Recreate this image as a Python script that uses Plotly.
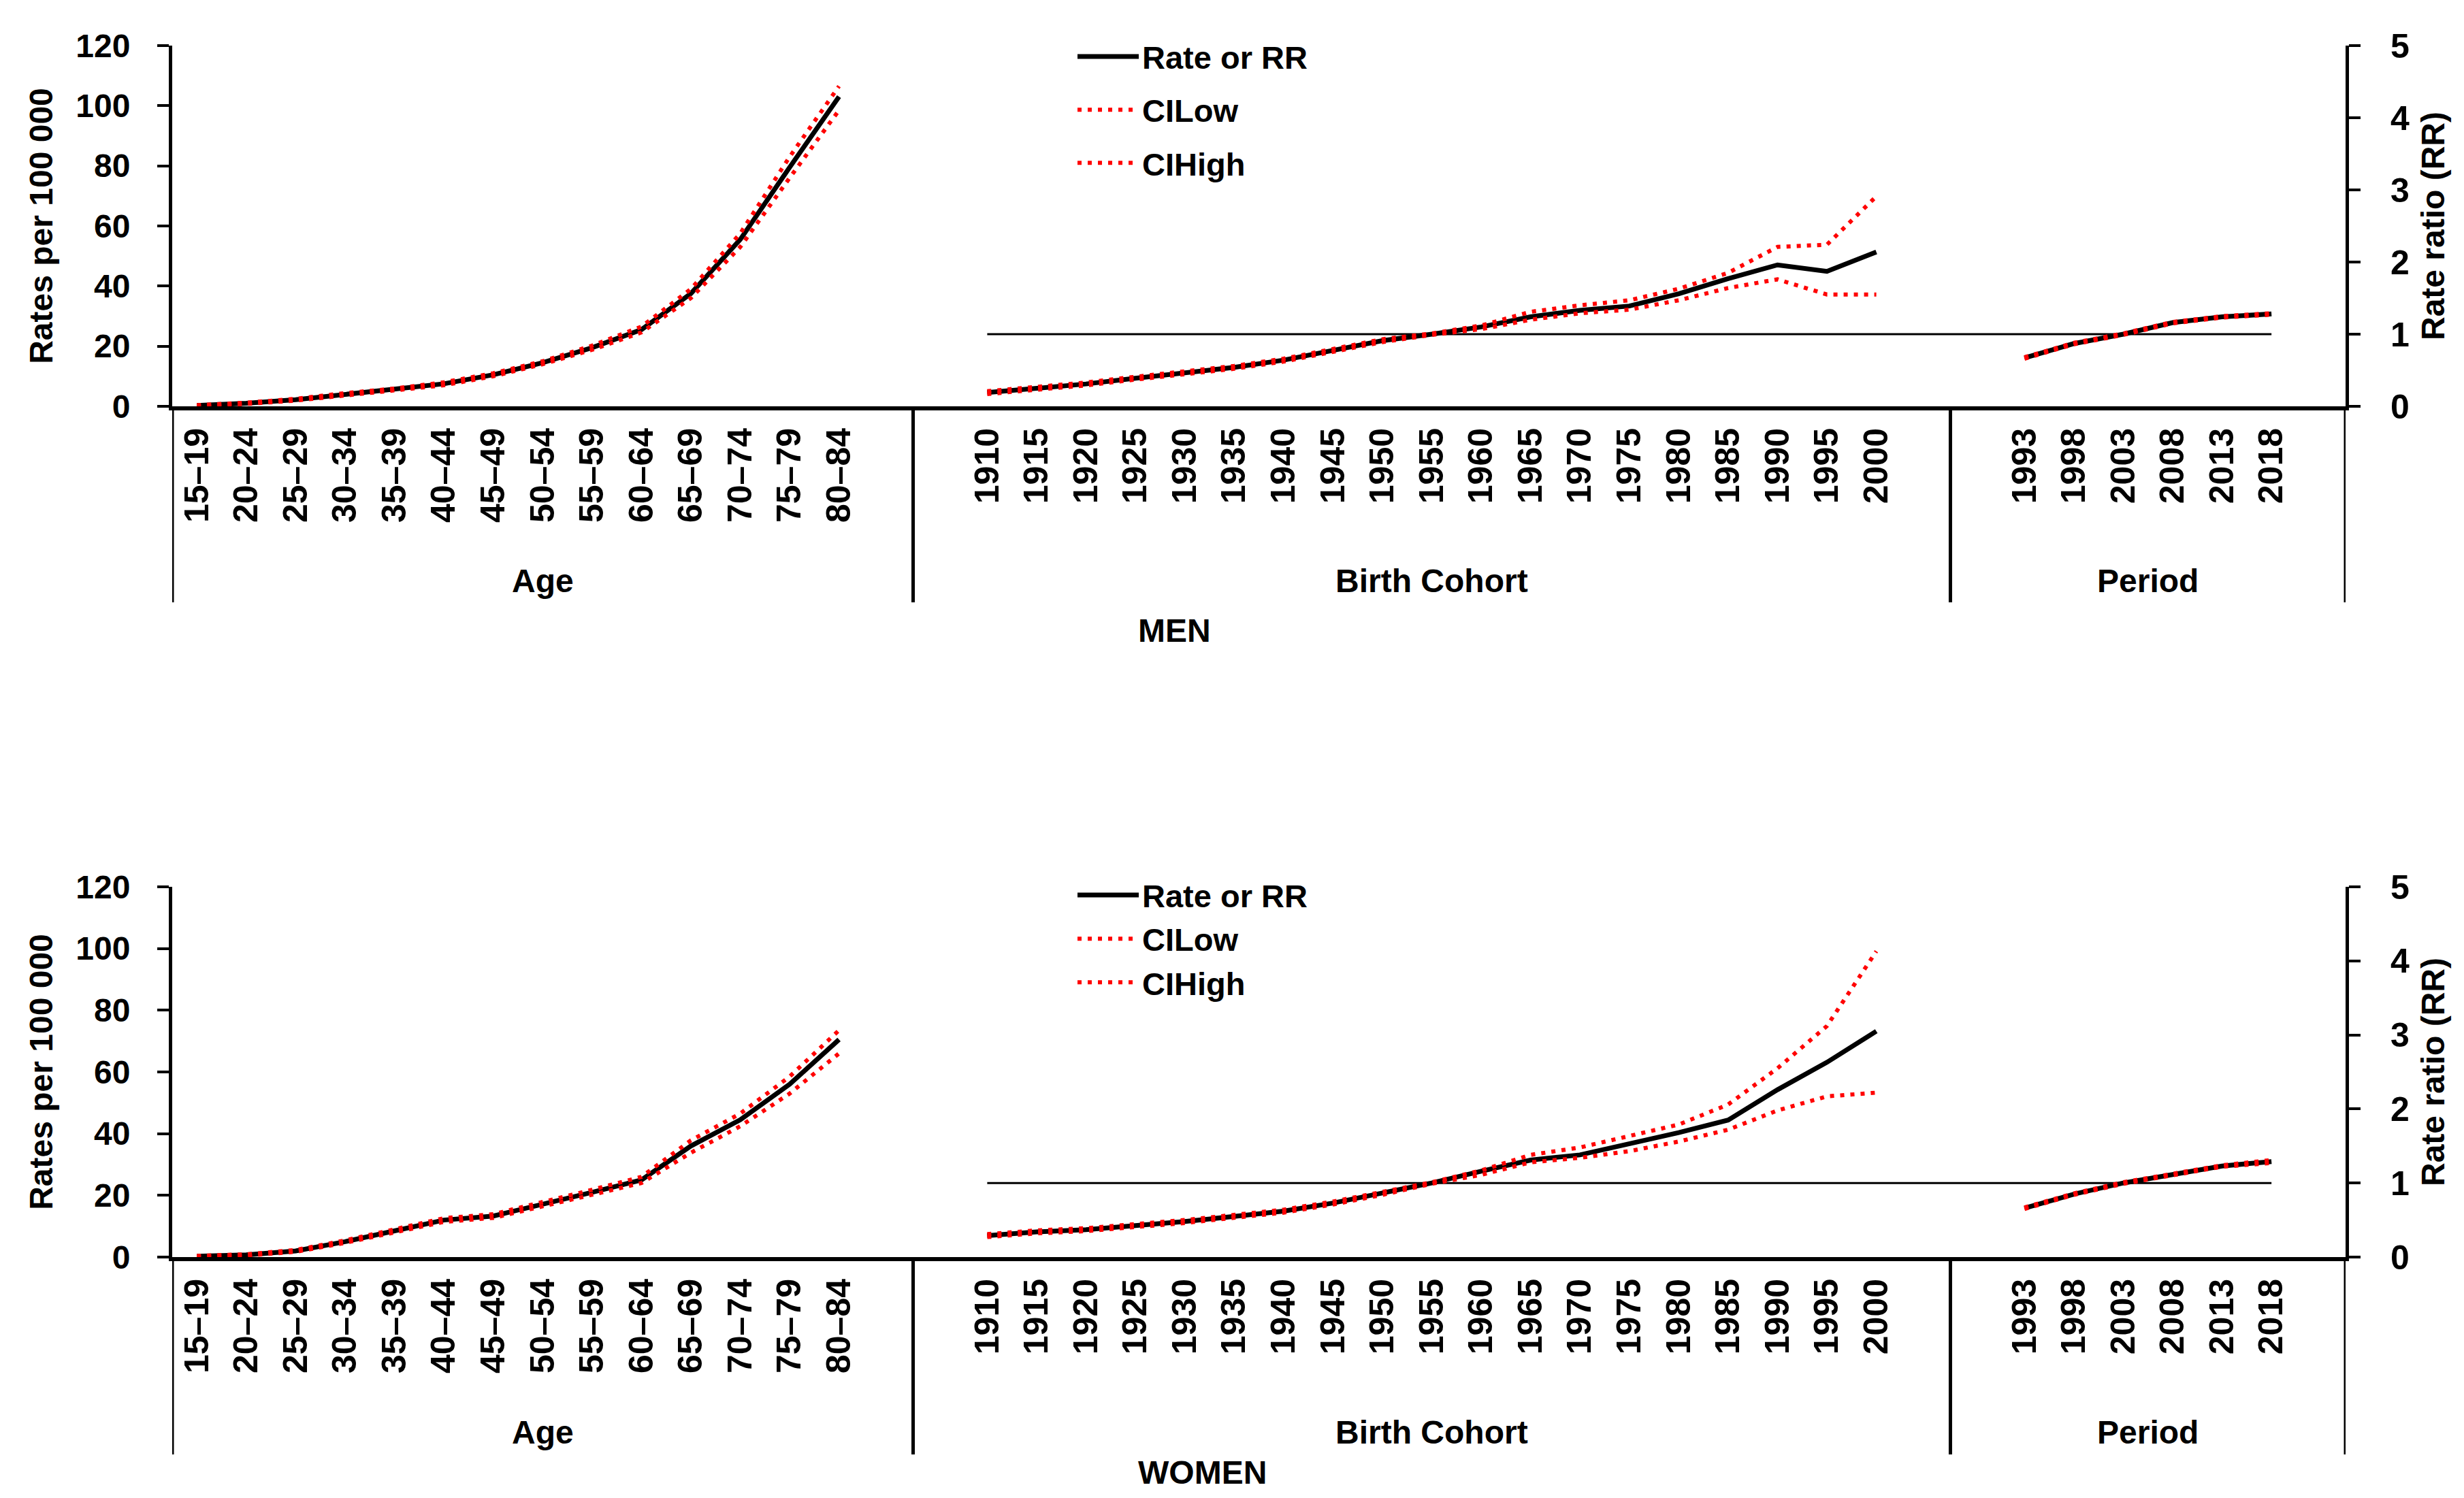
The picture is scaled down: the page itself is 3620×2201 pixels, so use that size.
import plotly.graph_objects as go

# ---------------- data ----------------
age_labels = ["15–19", "20–24", "25–29", "30–34", "35–39", "40–44", "45–49",
              "50–54", "55–59", "60–64", "65–69", "70–74", "75–79", "80–84"]
cohort_labels = ["1910", "1915", "1920", "1925", "1930", "1935", "1940", "1945",
                 "1950", "1955", "1960", "1965", "1970", "1975", "1980", "1985",
                 "1990", "1995", "2000"]
period_labels = ["1993", "1998", "2003", "2008", "2013", "2018"]

# MEN
men_age_rate = [0.3, 1.0, 2.2, 4.0, 5.5, 7.5, 10.5, 14.5, 19.5, 25.5, 37.5, 55.5, 79.5, 103.0]
men_age_low = [0.2, 0.8, 1.9, 3.6, 5.1, 7.0, 10.0, 14.0, 18.8, 24.6, 36.0, 53.0, 76.0, 98.5]
men_age_high = [0.4, 1.2, 2.5, 4.4, 5.9, 8.0, 11.0, 15.0, 20.2, 26.5, 39.0, 57.5, 83.0, 106.5]

men_coh_rr = [0.19, 0.25, 0.31, 0.39, 0.46, 0.54, 0.64, 0.77, 0.91, 1.00, 1.10, 1.24,
              1.33, 1.39, 1.56, 1.77, 1.96, 1.87, 2.14]
men_coh_low = [0.17, 0.23, 0.29, 0.37, 0.44, 0.52, 0.62, 0.75, 0.89, 0.99, 1.07, 1.20,
               1.29, 1.34, 1.47, 1.64, 1.76, 1.55, 1.55]
men_coh_high = [0.21, 0.27, 0.33, 0.41, 0.48, 0.56, 0.66, 0.79, 0.93, 1.01, 1.12, 1.31,
                1.40, 1.47, 1.63, 1.85, 2.21, 2.24, 2.91]

men_per_rr = [0.67, 0.87, 1.00, 1.16, 1.24, 1.28]
men_per_low = [0.66, 0.86, 0.99, 1.15, 1.23, 1.27]
men_per_high = [0.68, 0.88, 1.01, 1.17, 1.25, 1.29]

# WOMEN
women_age_rate = [0.3, 0.7, 2.0, 5.0, 8.5, 12.0, 13.3, 17.0, 21.0, 25.0, 36.0, 44.5, 56.0, 70.5]
women_age_low = [0.2, 0.5, 1.7, 4.6, 8.0, 11.4, 12.7, 16.3, 20.2, 24.0, 33.8, 42.4, 53.0, 66.0]
women_age_high = [0.4, 0.9, 2.3, 5.4, 9.0, 12.6, 13.9, 17.7, 21.8, 26.0, 37.8, 46.5, 58.5, 73.5]

women_coh_rr = [0.29, 0.34, 0.37, 0.42, 0.48, 0.55, 0.62, 0.73, 0.86, 1.00, 1.16, 1.31,
                1.38, 1.53, 1.68, 1.85, 2.26, 2.63, 3.05]
women_coh_low = [0.27, 0.32, 0.35, 0.40, 0.46, 0.53, 0.60, 0.71, 0.84, 0.99, 1.11, 1.28,
                 1.34, 1.43, 1.56, 1.72, 1.98, 2.17, 2.22]
women_coh_high = [0.31, 0.36, 0.39, 0.44, 0.50, 0.57, 0.64, 0.75, 0.88, 1.01, 1.17, 1.38,
                  1.48, 1.63, 1.79, 2.06, 2.55, 3.12, 4.13]

women_per_rr = [0.66, 0.85, 1.00, 1.12, 1.23, 1.29]
women_per_low = [0.65, 0.84, 0.99, 1.11, 1.22, 1.27]
women_per_high = [0.67, 0.86, 1.01, 1.13, 1.24, 1.31]

group_names = ["Age", "Birth Cohort", "Period"]
panel_names = ["MEN", "WOMEN"]
legend_names = ["Rate or RR", "CILow", "CIHigh"]
ref_value = 1

# ---------------- layout geometry (pixels) ----------------
W, H = 3620, 2201
L, R, T, B = 245, 182, 59, 362
PW, PH = W - L - R, H - T - B


def px_x(p):
    return (p - L) / PW


def px_y(p):
    return (H - B - p) / PH


FONT = "Liberation Sans, Arial, sans-serif"
BLACK = "#000000"
RED = "#FF0000"

# category slots with blank spacers (lead, trail)
groups = [(group_names[0], age_labels, 0, 1),
          (group_names[1], cohort_labels, 1, 1),
          (group_names[2], period_labels, 1, 1)]
slots = []
bounds = []
for name, labels, lead, trail in groups:
    start = len(slots)
    slots += [""] * lead + list(labels) + [""] * trail
    bounds.append((name, start - 0.5, len(slots) - 0.5))
pos = {lab: i for i, lab in enumerate(slots) if lab}
tickvals = [i for i, lab in enumerate(slots) if lab]
ticktext = [slots[i] for i in tickvals]
xrange_ = [-0.5, len(slots) - 0.5]

panels = [
    dict(xa="x", ya="y", ya2="y2", leg="legend",
         age=(men_age_rate, men_age_low, men_age_high),
         coh=(men_coh_rr, men_coh_low, men_coh_high),
         per=(men_per_rr, men_per_low, men_per_high)),
    dict(xa="x2", ya="y3", ya2="y4", leg="legend2",
         age=(women_age_rate, women_age_low, women_age_high),
         coh=(women_coh_rr, women_coh_low, women_coh_high),
         per=(women_per_rr, women_per_low, women_per_high)),
]

fig = go.Figure()
styles = [dict(color=BLACK, width=7),
          dict(color=RED, width=6, dash="6px,9px"),
          dict(color=RED, width=6, dash="6px,9px")]

for p in panels:
    # reference line RR = 1 across cohort and period groups
    ref_x = list(range(pos[cohort_labels[0]], pos[period_labels[-1]] + 1))
    fig.add_trace(go.Scatter(x=ref_x, y=[ref_value] * len(ref_x), mode="lines",
                             line=dict(color=BLACK, width=3), xaxis=p["xa"], yaxis=p["ya2"],
                             showlegend=False, hoverinfo="skip"))
    for k in range(3):
        fig.add_trace(go.Scatter(
            x=[pos[a] for a in age_labels], y=p["age"][k], mode="lines",
            line=styles[k], name=legend_names[k], xaxis=p["xa"], yaxis=p["ya"],
            legend=p["leg"], legendgroup=p["leg"] + str(k), showlegend=True))
    for k in range(3):
        xs = [pos[c] for c in cohort_labels] + [None] + [pos[c] for c in period_labels]
        ys = list(p["coh"][k]) + [None] + list(p["per"][k])
        fig.add_trace(go.Scatter(
            x=xs, y=ys, mode="lines", line=styles[k], name=legend_names[k],
            xaxis=p["xa"], yaxis=p["ya2"], legend=p["leg"],
            legendgroup=p["leg"] + str(k), showlegend=False, connectgaps=False))

xtick_font = dict(family=FONT, size=50, color=BLACK, weight="bold")
ytick_font = dict(family=FONT, size=48, color=BLACK, weight="bold")
title_font = dict(family=FONT, size=48, color=BLACK, weight="bold")


def xaxis_cfg(anchor):
    return dict(domain=[0, 1], range=xrange_, tickmode="array", tickvals=tickvals,
                ticktext=ticktext, tickangle=-90, showline=True, linewidth=6,
                linecolor=BLACK, ticks="", showgrid=False, zeroline=False,
                anchor=anchor, tickfont=xtick_font, ticklabelstandoff=6,
                automargin=False, fixedrange=True)


def yleft_cfg(domain):
    return dict(domain=domain, range=[0, 120], tickmode="linear", tick0=0, dtick=20,
                ticks="outside", ticklen=17, tickwidth=4, tickcolor=BLACK,
                showline=True, linewidth=5, linecolor=BLACK, showgrid=False,
                zeroline=False, tickfont=ytick_font, ticklabelstandoff=30,
                title=dict(text="Rates per 100 000", font=title_font, standoff=20),
                automargin=False)


def yright_cfg(over, anchor):
    return dict(overlaying=over, side="right", anchor=anchor, range=[0, 5],
                tickmode="linear", tick0=0, dtick=1, ticks="outside", ticklen=17,
                tickwidth=4, tickcolor=BLACK, showline=True, linewidth=5,
                linecolor=BLACK, showgrid=False, zeroline=False,
                tickfont=dict(family=FONT, size=50, color=BLACK, weight="bold"),
                ticklabelstandoff=34,
                title=dict(text="Rate ratio (RR)", font=title_font, standoff=20),
                automargin=False)


shapes = []
annotations = []
panel_geo = [
    dict(xref="x", y0=px_y(589), y1=px_y(877), lab_y=px_y(846), name_y=px_y(919)),
    dict(xref="x2", y0=px_y(1839), y1=px_y(2129), lab_y=px_y(2096), name_y=px_y(2155)),
]
label_font = dict(family=FONT, size=48, color=BLACK, weight="bold")
for gi, g in enumerate(panel_geo):
    edges = sorted(set([b[1] for b in bounds] + [b[2] for b in bounds]))
    for e in edges:
        shapes.append(dict(type="line", xref=g["xref"], yref="paper", x0=e, x1=e,
                           y0=g["y0"], y1=g["y1"], line=dict(color=BLACK, width=5)))
    for name, s, e in bounds:
        annotations.append(dict(text=name, xref=g["xref"], yref="paper", x=(s + e) / 2,
                                y=g["lab_y"], xanchor="center", yanchor="middle",
                                showarrow=False, font=label_font))
    annotations.append(dict(text=panel_names[gi], xref="paper", yref="paper",
                            x=px_x(1662), y=g["name_y"], xanchor="left", yanchor="middle",
                            showarrow=False, font=label_font))

legend_font = dict(family=FONT, size=47, color=BLACK, weight="bold")
fig.update_layout(
    width=W, height=H, autosize=False,
    margin=dict(l=L, r=R, t=T, b=B, pad=0),
    paper_bgcolor="white", plot_bgcolor="white",
    font=dict(family=FONT, size=46, color=BLACK, weight="bold"),
    xaxis=xaxis_cfg("y"),
    yaxis=yleft_cfg([px_y(589), px_y(59)]),
    yaxis2=yright_cfg("y", "x"),
    xaxis2=xaxis_cfg("y3"),
    yaxis3=yleft_cfg([px_y(1839), px_y(1295)]),
    yaxis4=yright_cfg("y3", "x2"),
    legend=dict(x=px_x(1570), y=px_y(38), xanchor="left", yanchor="top",
                font=legend_font, bgcolor="rgba(0,0,0,0)", itemwidth=90,
                tracegroupgap=14),
    legend2=dict(x=px_x(1570), y=px_y(1270), xanchor="left", yanchor="top",
                 font=legend_font, bgcolor="rgba(0,0,0,0)", itemwidth=90,
                 tracegroupgap=0),
    shapes=shapes, annotations=annotations,
    hovermode=False,
)

fig.write_html("out.html")
